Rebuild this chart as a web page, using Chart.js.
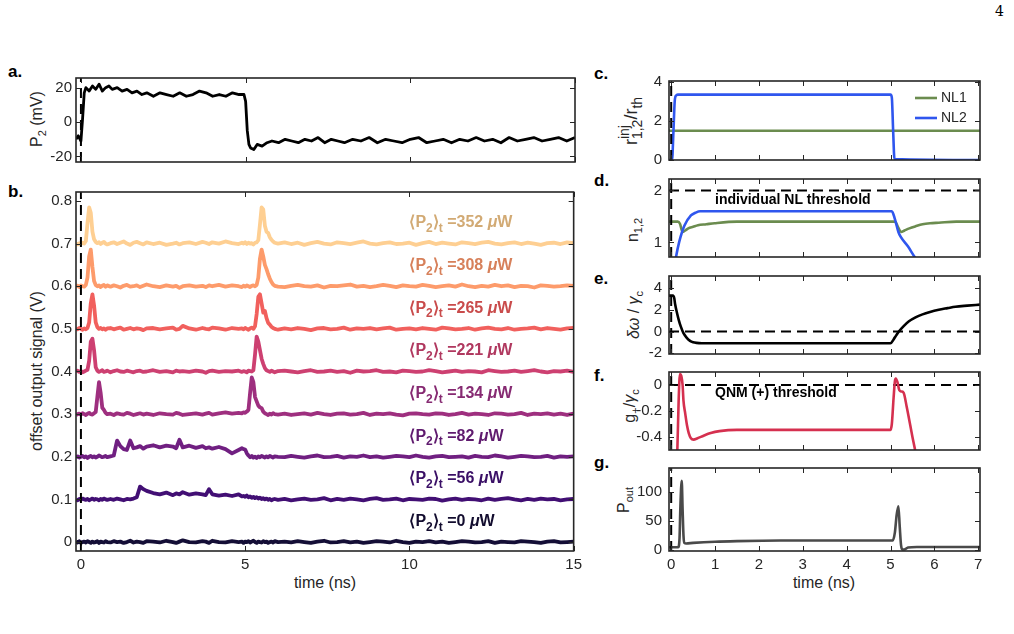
<!DOCTYPE html>
<html>
<head>
<meta charset="utf-8">
<title>P2 switching</title>
<script src="https://cdn.jsdelivr.net/npm/chart.js@4.4.1/dist/chart.umd.min.js"></script>
<style>
  body { margin: 0; background: #fff; }
  #fig { position: relative; width: 1014px; height: 634px; overflow: hidden; font-family: "Liberation Sans", Arial, sans-serif; color: #262626; }
  .pan { position: absolute; }
  .tag { position: absolute; font-weight: bold; font-size: 17px; color: #000; line-height: 20px; }
  .ttl { position: absolute; font-size: 16px; white-space: nowrap; line-height: 18px; transform: translate(-50%, -50%); }
  .rot { transform: translate(-50%, -50%) rotate(-90deg); }
  .ttl sub { font-size: 11px; vertical-align: -4px; line-height: 0; }
  .big { font-size: 18px; }
  .big sub { font-size: 14px; vertical-align: -5px; }
  .ss { display: inline-block; font-size: 14px; line-height: 13px; vertical-align: -5px; }
  .pg { position: absolute; left: 995px; top: 3px; font: 14px "DejaVu Serif", serif; color: #000; }
</style>
</head>
<body>
<div id="fig">
  <div class="pg">4</div>
  <div class="tag" style="left:8px;top:62px">a.</div>
  <div class="tag" style="left:8px;top:182px">b.</div>
  <div class="tag" style="left:594px;top:64px">c.</div>
  <div class="tag" style="left:594px;top:171px">d.</div>
  <div class="tag" style="left:594px;top:269px">e.</div>
  <div class="tag" style="left:594px;top:366px">f.</div>
  <div class="tag" style="left:594px;top:453px">g.</div>

  <div class="ttl rot" style="left:37px;top:119px">P<sub>2</sub> (mV)</div>
  <div class="ttl rot" style="left:37px;top:371px">offset output signal (V)</div>
  <div class="ttl" style="left:325px;top:583px">time (ns)</div>

  <div class="ttl rot big" style="left:631px;top:121px">r<span class="ss">inj<br>1,2</span>/r<sub>th</sub></div>
  <div class="ttl rot" style="left:633px;top:230px">n<sub>1,2</sub></div>
  <div class="ttl rot" style="left:634px;top:315px"><i>δω</i> / <i>γ</i><sub>c</sub></div>
  <div class="ttl rot" style="left:630px;top:406px">g<sub>+</sub>/<i>γ</i><sub>c</sub></div>
  <div class="ttl rot" style="left:624px;top:500px">P<sub>out</sub></div>
  <div class="ttl" style="left:824px;top:583px">time (ns)</div>
</div>
<script>
// ---- panel a : P2 drive (mV)
const tA = [-0.15,-0.08,0,0.05,0.1,0.15,0.25,0.35,0.45,0.55,0.65,0.75,0.85,0.95,1.1,1.25,1.4,1.55,1.7,1.85,
  2.0,2.2,2.4,2.6,2.8,3.0,3.2,3.4,3.6,3.8,4.0,4.2,4.4,4.6,4.8,4.95,5.0,5.05,5.1,5.15,5.25,5.35,5.5,5.65,5.8,
  6.0,6.2,6.4,6.6,6.8,7.0,7.2,7.4,7.6,7.8,8.0,8.25,8.5,8.75,9.0,9.25,9.5,9.75,10.0,10.25,10.5,10.75,11.0,
  11.25,11.5,11.75,12.0,12.25,12.5,12.75,13.0,13.25,13.5,13.75,14.0,14.25,14.5,14.75,15.0];
const p2mV = [-10,-8,-11,2,17,20,18,21,19,22,18,20,21,19,20,18,19,17,18,16,
  17,15,17,16,15,17,15,16,18,17,15,16,15,17,16,16,12,-5,-13,-15,-16,-13,-14,-12,-11,
  -12,-10,-11,-12,-10,-11,-9,-12,-10,-11,-12,-10,-11,-9,-12,-10,-11,-12,-10,-9,-12,-11,-10,
  -12,-10,-11,-9,-11,-10,-12,-9,-11,-10,-9,-11,-10,-9,-11,-9];

// ---- panel b : output traces, signal above each offset in mV
const tB = [-0.15,-0.1,-0.05,0,0.05,0.1,0.15,0.2,0.25,0.3,0.35,0.4,0.45,0.5,0.55,0.6,0.65,0.7,0.75,0.8,
  0.9,1.0,1.1,1.2,1.3,1.4,1.5,1.6,1.7,1.8,1.9,2.0,2.2,2.4,2.6,2.8,2.9,3.0,3.1,3.3,3.5,3.7,3.8,3.9,4.0,4.2,4.4,4.6,4.8,4.9,
  4.95,5.0,5.05,5.1,5.15,5.2,5.25,5.3,5.35,5.4,5.45,5.5,5.55,5.6,5.65,5.7,5.75,5.8,5.85,5.9,6.0,
  6.2,6.4,6.6,6.8,7.0,7.2,7.4,7.6,7.8,8.0,8.2,8.4,8.6,8.8,9.0,9.2,9.4,9.6,9.8,10.0,10.2,10.4,10.6,10.8,
  11.0,11.2,11.4,11.6,11.8,12.0,12.2,12.4,12.6,12.8,13.0,13.2,13.4,13.6,13.8,14.0,14.2,14.4,14.6,14.8,15.0];
const bPowers = ['352', '308', '265', '221', '134', '82', '56', '0'];
const bOffsets = [0.7, 0.6, 0.5, 0.4, 0.3, 0.2, 0.1, 0];
const s352 = [0,-2,1,-1,2,0,6,48,85,72,28,10,4,1,3,-1,2,4,0,-2,
  1,3,-1,2,5,0,-3,2,4,1,-2,3,-1,2,-3,0,2,-2,1,3,-1,4,2,-1,3,0,5,1,-1,2,
  0,3,-1,2,0,1,-2,2,3,8,45,85,80,42,28,25,15,9,5,2,0,
  3,-1,2,-3,1,4,0,-2,3,1,-1,2,5,0,-2,1,3,-1,0,2,-3,1,4,-1,2,0,-2,3,1,-1,2,4,0,-2,1,3,-1,2,0,-3,1,2,-1,3,1];
const s308 = [-1,1,-2,2,0,-1,3,20,70,86,45,12,3,0,2,-2,1,3,-1,2,
  -1,2,0,-3,1,3,-1,0,2,-2,1,4,0,-2,2,-1,1,-4,0,2,-1,1,-2,2,0,3,-1,2,0,-2,
  1,-1,2,0,-2,1,2,0,3,20,65,86,70,50,40,28,18,10,4,1,-1,
  -2,1,3,0,-1,2,-3,1,0,2,4,-1,1,-2,0,3,1,-2,2,0,-1,3,1,-2,0,2,-1,4,0,-2,1,-1,3,0,2,-2,1,0,-3,2,1,-1,0,2,1];
const s265 = [1,-1,2,0,-2,1,-1,2,15,60,81,55,15,4,0,2,-1,1,-2,1,
  2,-1,1,3,-2,0,2,-1,1,0,-3,1,2,-1,1,3,-2,0,7,1,-2,2,0,-1,3,1,-2,2,0,1,
  -1,2,0,-2,1,3,0,6,35,75,81,60,38,42,25,14,10,5,2,0,-2,
  1,-1,2,0,-3,1,2,-1,0,3,-2,1,0,2,-1,1,3,-2,0,1,-1,2,0,-2,3,1,-1,0,2,-2,1,3,0,-1,2,-2,0,1,3,-1,2,0,-2,1,2];
const s221 = [0,2,-1,1,-2,0,2,4,25,70,77,50,10,2,-1,1,3,-1,0,2,
  -2,1,3,0,-1,2,0,-2,1,2,-1,0,3,-1,1,-2,2,0,1,-1,2,0,-3,1,2,-1,1,0,2,-1,
  1,0,-2,2,1,0,3,40,82,70,50,30,18,8,3,1,-1,2,0,-2,1,
  2,0,-2,1,3,-1,0,2,-1,1,-3,2,0,1,3,-1,0,-2,2,1,-1,0,3,1,-2,0,2,-1,1,0,-2,3,1,-1,0,2,-1,1,3,0,-2,1,0,2,-1];
const s134 = [-2,0,1,-1,2,0,-2,1,3,0,-1,2,5,40,75,50,15,10,3,0,
  1,-2,2,0,-1,3,1,-2,0,2,-1,1,-2,2,0,-1,3,1,-2,0,2,-1,1,3,-1,2,4,1,3,2,
  4,3,6,10,50,86,75,40,30,20,16,14,6,2,0,-2,1,-1,2,0,-1,
  1,-2,0,2,-1,3,0,-2,1,2,-1,0,3,-2,1,0,2,-1,-3,1,2,0,-1,2,1,-2,0,3,-1,1,0,-2,2,1,-1,0,3,-2,1,0,2,-1,1,-2,1];
const s82 = [-1,1,-2,0,2,-1,1,-3,0,2,-1,1,-2,0,3,1,-1,0,2,-1,
  1,3,38,25,18,16,38,20,22,25,19,24,27,22,26,24,20,40,22,26,21,25,20,22,19,23,18,8,16,20,
  18,17,8,3,-1,2,-2,0,-3,1,-1,2,0,-2,1,-1,2,0,-2,1,0,
  -1,2,0,-2,1,3,-1,0,2,-2,1,0,3,-1,1,-2,0,2,1,-1,3,0,-2,1,2,-1,0,1,-2,2,0,-1,3,1,-2,0,2,1,-1,0,2,-2,1,0,1];
const s56 = [0,-2,1,-1,2,0,-1,1,-2,0,2,-1,1,0,-2,1,-1,2,0,-1,
  1,-1,2,0,-2,1,0,2,5,30,24,20,15,12,16,10,14,12,17,11,14,12,10,24,12,9,11,8,12,7,
  8,6,9,5,7,4,6,3,5,2,4,1,3,0,2,-1,1,-2,0,1,-1,
  1,-2,0,2,-1,0,3,-2,1,-1,2,0,-2,1,3,-1,0,2,-2,1,0,-1,2,1,-3,0,2,-1,1,0,-2,2,-1,1,3,0,-2,1,-1,2,0,1,-2,0,1];
const s0 = [1,-1,2,-2,0,1,-1,2,0,-2,1,-1,0,2,-2,1,0,-1,2,0,
  -1,2,0,1,-2,0,3,-1,1,0,-2,2,1,-1,3,0,-2,1,4,0,-1,2,1,-2,3,0,-1,2,0,1,
  -2,1,0,2,-1,1,3,0,-2,1,0,-1,2,0,1,-2,0,1,-1,2,0,
  1,-1,2,0,-2,1,3,-1,0,2,-1,1,-2,0,2,1,-1,3,0,-2,1,0,2,-1,1,-2,0,2,1,-1,0,2,-2,1,0,-1,2,1,0,-2,1,2,-1,0,1];
const bSignals = [s352, s308, s265, s221, s134, s82, s56, s0];

// ---- panel c : injection ratio
const tNL1c = [-0.05, 7.04];
const nl1c = [1.5, 1.5];
const tNL2c = [-0.05, 0.02, 0.05, 0.08, 0.11, 0.15, 5.0, 5.03, 5.06, 5.09, 7.04];
const nl2c = [0, 0, 1.4, 3.0, 3.3, 3.35, 3.35, 3.2, 1.5, 0.05, 0];

// ---- panel d : carrier density
const tNL1d = [-0.05,0.15,0.2,0.26,0.32,0.39,0.5,0.61,0.8,0.99,1.5,5.1,5.13,5.18,5.24,5.32,5.43,5.57,5.73,5.9,6.1,6.5,7.04];
const nl1d = [1.4,1.4,1.36,1.2,1.23,1.27,1.3,1.33,1.35,1.37,1.4,1.4,1.37,1.28,1.2,1.23,1.27,1.31,1.35,1.37,1.38,1.4,1.4];
const tNL2d = [0.05,0.11,0.18,0.3,0.45,0.55,0.66,1.0,5.03,5.1,5.18,5.23,5.4,5.55,5.7];
const nl2d = [0.4,0.72,1.0,1.32,1.52,1.57,1.6,1.6,1.6,1.45,1.2,1.11,0.92,0.72,0.55];

// ---- panel e : detuning
const tE = [-0.05,0.04,0.07,0.09,0.13,0.17,0.22,0.28,0.35,0.43,0.5,0.58,0.7,1.0,
  5.0,5.07,5.13,5.19,5.3,5.42,5.57,5.73,5.9,6.1,6.3,6.48,6.75,7.04];
const detE = [3.3,3.3,3.05,2.5,1.75,1.1,0.45,-0.15,-0.55,-0.85,-0.98,-1.04,-1.07,-1.08,
  -1.08,-0.72,-0.35,0.0,0.5,0.94,1.3,1.58,1.8,2.0,2.15,2.28,2.38,2.47];

// ---- panel f : QNM gain
const tF = [0.12,0.14,0.17,0.2,0.23,0.26,0.28,0.32,0.36,0.4,0.45,0.51,0.6,0.74,0.9,1.1,1.5,
  5.0,5.03,5.07,5.1,5.12,5.16,5.2,5.25,5.3,5.37,5.45,5.5,5.56,5.6];
const gF = [-0.6,-0.5,-0.12,0.085,0.07,0.0,-0.12,-0.22,-0.31,-0.37,-0.41,-0.42,-0.41,-0.39,-0.37,-0.355,-0.345,
  -0.345,-0.3,-0.1,0.03,0.05,0.02,-0.04,-0.05,-0.06,-0.17,-0.31,-0.4,-0.5,-0.58];

// ---- panel g : output power
const tG = [-0.05,0.16,0.19,0.21,0.24,0.26,0.28,0.3,0.34,0.5,1.0,1.5,2.5,5.05,5.1,5.14,5.18,5.21,5.24,5.27,5.31,5.4,5.6,7.04];
const pG = [4.5,4.5,20,75,119,70,25,12,11,12,14,15,16,16,30,60,75,40,8,0.5,0.5,4,5,5];

// tick values
const xTicksL = [0, 5, 10, 15];
const xTicksR = [0, 1, 2, 3, 4, 5, 6, 7];

// styles
const FONT = "'Liberation Sans', Arial, sans-serif";
const INK = '#262626';
const bColors = ['#fecf92', '#fd9b6b', '#f1605d', '#cd4071', '#9e2f7f', '#701f81', '#420f74', '#140e36'];
const bLabelColors = ['#d2aa74', '#d7805a', '#c94b4b', '#b0385f', '#862a72', '#5f1a6e', '#3a0f66', '#120c2e'];
const nlColors = ['#6b8c4f', '#2f56ee'];
const XL = [-0.15, 15];
const XR = [-0.05, 7.04];
const YW = 60, PD = 12;

const fig = document.getElementById('fig');

const line = (xs, ys, color, width, extra) => Object.assign({
  data: xs.map((x, i) => ({ x, y: ys[i] })),
  showLine: true,
  borderColor: color,
  borderWidth: width,
  borderJoinStyle: 'round',
  pointRadius: 0,
  fill: false,
  tension: 0
}, extra || {});
const smooth = { cubicInterpolationMode: 'monotone' };
const dashV = (yr) => line([0, 0], yr, '#000', 2, { borderDash: [10, 6] });
const dashH = (v, xr) => line(xr, [v, v], '#000', 2, { borderDash: [10, 6] });

// box with inward ticks on all four sides, like the original
const frame = {
  id: 'frame',
  afterDatasetsDraw(chart) {
    const { ctx, chartArea: a, scales } = chart;
    ctx.save();
    ctx.strokeStyle = INK;
    ctx.lineWidth = 1;
    ctx.beginPath();
    scales.x.ticks.forEach(t => {
      const px = Math.round(scales.x.getPixelForValue(t.value)) + 0.5;
      ctx.moveTo(px, a.bottom); ctx.lineTo(px, a.bottom - 5);
      ctx.moveTo(px, a.top); ctx.lineTo(px, a.top + 5);
    });
    scales.y.ticks.forEach(t => {
      const py = Math.round(scales.y.getPixelForValue(t.value)) + 0.5;
      ctx.moveTo(a.left, py); ctx.lineTo(a.left + 5, py);
      ctx.moveTo(a.right, py); ctx.lineTo(a.right - 5, py);
    });
    ctx.stroke();
    ctx.lineWidth = 1.6;
    ctx.strokeRect(a.left, a.top, a.width, a.height);
    ctx.restore();
  }
};

function richText(ctx, parts, x, y, size, color, bold) {
  ctx.save();
  ctx.fillStyle = color;
  ctx.textBaseline = 'alphabetic';
  ctx.textAlign = 'left';
  let cx = x;
  parts.forEach(([txt, kind]) => {
    const sz = kind === 'sub' ? Math.round(size * 0.72) : size;
    ctx.font = (kind === 'it' ? 'italic ' : '') + (bold ? 'bold ' : '') + sz + 'px ' + FONT;
    ctx.fillText(txt, cx, y + (kind === 'sub' ? size * 0.3 : 0));
    cx += ctx.measureText(txt).width;
  });
  ctx.restore();
}

const note = (text, tx, ty) => ({
  id: 'note',
  afterDatasetsDraw(c) {
    const { ctx, scales: { x, y } } = c;
    ctx.save();
    ctx.font = 'bold 14px ' + FONT;
    ctx.fillStyle = '#000';
    ctx.textBaseline = 'middle';
    ctx.fillText(text, x.getPixelForValue(tx), y.getPixelForValue(ty));
    ctx.restore();
  }
});

function panel(rect, o) {
  const [L, T, R, B] = rect;
  const xh = o.xLab ? 22 : 0;
  const box = document.createElement('div');
  box.className = 'pan';
  box.style.left = (L - YW) + 'px';
  box.style.top = (T - PD) + 'px';
  box.style.width = (R - L + YW + PD) + 'px';
  box.style.height = (B - T + PD + xh + PD) + 'px';
  const cv = document.createElement('canvas');
  box.appendChild(cv);
  fig.appendChild(box);
  const tickFont = { family: FONT, size: 15 };
  return new Chart(cv, {
    type: 'scatter',
    data: { datasets: o.datasets },
    options: {
      responsive: true,
      maintainAspectRatio: false,
      animation: false,
      events: [],
      layout: { padding: { left: 0, top: PD, right: PD, bottom: PD } },
      plugins: { legend: { display: false }, tooltip: { enabled: false } },
      scales: {
        x: {
          type: 'linear', min: o.x[0], max: o.x[1],
          afterBuildTicks: s => { s.ticks = o.xt.map(v => ({ value: v })); },
          afterFit: s => { s.height = xh; },
          grid: { display: false, drawTicks: false },
          border: { display: false },
          ticks: { display: !!o.xLab, font: tickFont, color: INK, padding: 5, maxRotation: 0, autoSkip: false, callback: v => String(v) }
        },
        y: {
          type: 'linear', min: o.y[0], max: o.y[1],
          afterBuildTicks: s => { s.ticks = o.yt.map(v => ({ value: v })); },
          afterFit: s => { s.width = YW; },
          grid: { display: false, drawTicks: false },
          border: { display: false },
          ticks: { font: tickFont, color: INK, padding: o.ypad, autoSkip: false, callback: v => String(v) }
        }
      }
    },
    plugins: [frame].concat(o.extra || [])
  });
}

// a.
const YA = [-23.2, 25.6];
panel([76, 77, 575, 163], {
  x: XL, y: YA, xt: xTicksL, yt: [-20, 0, 20], ypad: 4,
  datasets: [line(tA, p2mV, '#000', 2.8), dashV(YA)]
});

// b.
const YB = [-0.021, 0.821];
const bSets = bSignals.map((s, i) => line(tB, s.map(v => bOffsets[i] + v / 1000), bColors[i], 3.8));
panel([76, 191, 575, 551], {
  x: XL, y: YB, xt: xTicksL, yt: [0, 0.1, 0.2, 0.3, 0.4, 0.5, 0.6, 0.7, 0.8], ypad: 4, xLab: true,
  datasets: [dashV(YB)].concat(bSets),
  extra: [{
    id: 'bLabels',
    afterDatasetsDraw(c) {
      const { ctx, scales: { x, y } } = c;
      bPowers.forEach((p, i) => {
        richText(ctx, [['⟨P', ''], ['2', 'sub'], ['⟩', ''], ['t', 'sub'], [' =' + p + ' ', ''], ['μ', 'it'], ['W', '']],
          x.getPixelForValue(10.0), y.getPixelForValue(bOffsets[i] + 0.038), 16, bLabelColors[i], true);
      });
    }
  }]
});

// c.
const YC = [0, 4.05];
panel([669, 77, 980, 164], {
  x: XR, y: YC, xt: xTicksR, yt: [0, 2, 4], ypad: 7,
  datasets: [dashV(YC), line(tNL2c, nl2c, nlColors[1], 2.6, smooth), line(tNL1c, nl1c, nlColors[0], 2.6)],
  extra: [{
    id: 'legendC',
    afterDatasetsDraw(c) {
      const { ctx, chartArea: a } = c;
      [['NL1', nlColors[0], 17], ['NL2', nlColors[1], 37]].forEach(([name, col, dy]) => {
        ctx.save();
        ctx.strokeStyle = col;
        ctx.lineWidth = 2.6;
        ctx.beginPath();
        ctx.moveTo(a.right - 65, a.top + dy);
        ctx.lineTo(a.right - 43, a.top + dy);
        ctx.stroke();
        ctx.fillStyle = INK;
        ctx.font = '14px ' + FONT;
        ctx.textBaseline = 'middle';
        ctx.fillText(name, a.right - 39, a.top + dy);
        ctx.restore();
      });
    }
  }]
});

// d.
const YD = [0.72, 2.22];
panel([669, 175, 980, 261], {
  x: XR, y: YD, xt: xTicksR, yt: [1, 2], ypad: 7,
  datasets: [dashV(YD), line(tNL2d, nl2d, nlColors[1], 2.6, smooth), line(tNL1d, nl1d, nlColors[0], 2.6, smooth), dashH(2, XR)],
  extra: [note('individual NL threshold', 1.0, 1.82)]
});

// e.
const YE = [-2.06, 5.1];
panel([669, 272, 980, 358], {
  x: XR, y: YE, xt: xTicksR, yt: [-2, 0, 2, 4], ypad: 7,
  datasets: [dashV(YE), line(tE, detE, '#000', 2.6, smooth), dashH(0, XR)]
});

// f.
const YF = [-0.5, 0.1];
panel([669, 368, 980, 454], {
  x: XR, y: YF, xt: xTicksR, yt: [-0.4, -0.2, 0], ypad: 7,
  datasets: [dashV(YF), line(tF, gF, '#d5304f', 2.6, smooth), dashH(0, XR)],
  extra: [note('QNM (+) threshold', 1.0, -0.062)]
});

// g.
const YG = [-2, 141];
panel([669, 464, 980, 551], {
  x: XR, y: YG, xt: xTicksR, yt: [0, 50, 100], ypad: 7, xLab: true,
  datasets: [dashV(YG), line(tG, pG, '#4a4a4a', 2.6, smooth)]
});
</script>
</body>
</html>
